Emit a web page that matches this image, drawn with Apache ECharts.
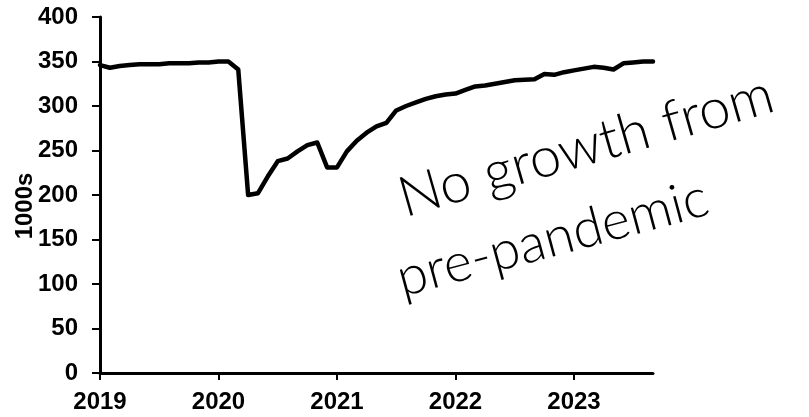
<!DOCTYPE html>
<html>
<head>
<meta charset="utf-8">
<script src="https://cdn.jsdelivr.net/npm/echarts@6/dist/echarts.min.js"></script>
<style>html,body{margin:0;padding:0;background:#fff;}#c{width:809px;height:417px;}</style>
</head>
<body>
<div id="c"></div>
<script>
// Monthly data, Jan 2019 .. Sep 2023
const years = [2019, 2020, 2021, 2022, 2023];
const startYear = 2019;
const monthCount = 57;
const values = [
  346, 343, 345, 346, 347, 347, 347, 348, 348, 348, 349, 349,
  350, 350, 341, 200, 202, 221, 238, 241, 249, 256, 259, 231,
  231, 249, 261, 270, 277, 281, 295, 300, 304, 308, 311, 313,
  314, 318, 322, 323, 325, 327, 329, 329.5, 330, 336, 335, 338,
  340, 342, 344, 343, 341, 348, 349, 350, 350
];
const yTicks = [0, 50, 100, 150, 200, 250, 300, 350, 400];
const yName = '1000s';
const note1 = 'No growth from';
const note2 = 'pre-pandemic';

const categories = [];
for (let i = 0; i < monthCount; i++) {
  const y = startYear + Math.floor(i / 12);
  const m = (i % 12) + 1;
  categories.push(y + '-' + (m < 10 ? '0' + m : m));
}

const chart = echarts.init(document.getElementById('c'));
const labelFont = {color: '#000', fontFamily: '"Liberation Sans", Arial, sans-serif', fontWeight: 'bold', fontSize: 24};
const hand = {fill: '#000', textAlign: 'left', textVerticalAlign: 'middle'};

chart.setOption({
  animation: false,
  backgroundColor: '#fff',
  grid: {left: 100, right: 156, top: 17, bottom: 44, containLabel: false},
  xAxis: {
    type: 'category',
    data: categories,
    boundaryGap: false,
    axisLine: {lineStyle: {color: '#000', width: 3}},
    axisTick: {show: true, interval: 11, length: 7, lineStyle: {color: '#000', width: 2}},
    axisLabel: Object.assign({
      interval: 11, margin: 17,
      formatter: function (v) { return v.slice(0, 4); }
    }, labelFont),
    splitLine: {show: false}
  },
  yAxis: {
    type: 'value',
    min: yTicks[0], max: yTicks[yTicks.length - 1], interval: 50,
    axisLine: {show: true, lineStyle: {color: '#000', width: 3}},
    axisTick: {show: true, length: 8, lineStyle: {color: '#000', width: 2}},
    axisLabel: Object.assign({margin: 22}, labelFont),
    splitLine: {show: false}
  },
  series: [{
    type: 'line',
    data: values,
    showSymbol: false,
    symbol: 'none',
    lineStyle: {color: '#000', width: 4.5, join: 'round', cap: 'round'}
  }],
  graphic: [
    {type: 'text', x: 25, y: 206, rotation: Math.PI / 2,
     style: {text: yName, fill: '#000', font: 'bold 24px "Liberation Sans", Arial, sans-serif', textAlign: 'center', textVerticalAlign: 'middle'}},
    {type: 'text', x: 400, y: 200, rotation: 16 * Math.PI / 180,
     style: Object.assign({}, hand, {text: note1, font: '300 56px Lato, "Noto Sans", sans-serif'})},
    {type: 'text', x: 398, y: 280, rotation: 15 * Math.PI / 180,
     style: Object.assign({}, hand, {text: note2, font: '300 54px Lato, "Noto Sans", sans-serif'})}
  ]
});
</script>
</body>
</html>
